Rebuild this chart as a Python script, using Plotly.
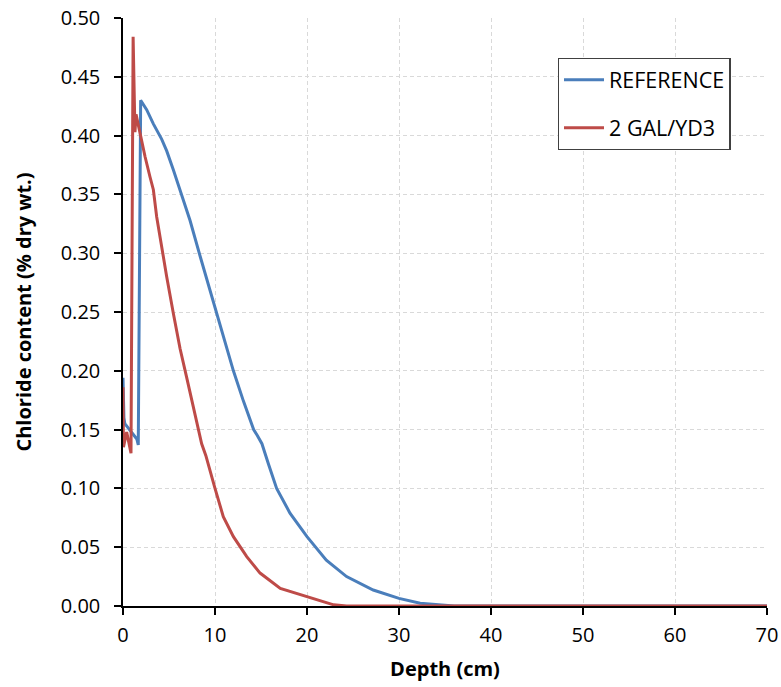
import plotly.graph_objects as go

# Reference series
ref_depth = [0, 0.1, 0.2, 0.5, 1.0, 1.5, 1.66, 1.92, 2.57, 3.3, 4.2, 4.75, 5.47, 6.2,
             7.28, 8.4, 9.46, 10.5, 11.3, 12.0, 13.1, 14.2, 14.6, 15.1, 15.8, 16.7,
             18.15, 20.0, 22.1, 24.3, 27.2, 30.0, 32.3, 34.5, 36.0, 40, 50, 60, 70]
ref_cl = [0.194, 0.160, 0.155, 0.152, 0.148, 0.142, 0.137, 0.430, 0.422, 0.410, 0.397,
          0.387, 0.371, 0.354, 0.328, 0.297, 0.269, 0.240, 0.219, 0.200, 0.174, 0.150,
          0.145, 0.138, 0.121, 0.100, 0.079, 0.059, 0.039, 0.025, 0.0136, 0.0065,
          0.0023, 0.0006, 0.0, 0.0, 0.0, 0.0, 0.0]

# 2 GAL/YD3 series
gal_depth = [0, 0.05, 0.4, 0.87, 1.1, 1.3, 1.42, 1.85, 2.4, 2.93, 3.3, 3.66, 4.2, 4.75,
             5.47, 6.2, 6.9, 7.65, 8.55, 9.0, 9.46, 10.0, 10.9, 12.0, 13.45, 14.9, 17.1,
             20.0, 21.8, 22.9, 24.3, 30, 40, 50, 60, 70]
gal_cl = [0.186, 0.135, 0.148, 0.130, 0.484, 0.403, 0.418, 0.402, 0.382, 0.365, 0.354,
          0.331, 0.305, 0.280, 0.249, 0.219, 0.195, 0.169, 0.138, 0.128, 0.116, 0.100,
          0.076, 0.059, 0.042, 0.028, 0.015, 0.008, 0.0037, 0.001, 0.0, 0.0, 0.0, 0.0,
          0.0, 0.0]

x_ticks = [0, 10, 20, 30, 40, 50, 60, 70]
y_ticks = [0.00, 0.05, 0.10, 0.15, 0.20, 0.25, 0.30, 0.35, 0.40, 0.45, 0.50]

FONT = "'Open Sans', 'Liberation Sans', sans-serif"

fig = go.Figure()
fig.add_trace(go.Scatter(x=ref_depth, y=ref_cl, mode="lines", name="REFERENCE",
                         legendgroup="a",
                         line=dict(color="#4A7EBB", width=3)))
fig.add_trace(go.Scatter(x=gal_depth, y=gal_cl, mode="lines", name="2 GAL/YD3",
                         legendgroup="b",
                         line=dict(color="#BE4B48", width=3)))

axis_common = dict(showline=True, linecolor="black", linewidth=1.5, ticks="outside",
                   ticklen=7, tickcolor="black", tickwidth=1.5, showgrid=True,
                   gridcolor="#D9D9D9", gridwidth=1, griddash="4px,3px",
                   zeroline=False, automargin=False, ticklabeloverflow="allow",
                   tickfont=dict(family=FONT, size=20, color="black"))

fig.update_layout(
    width=781, height=687,
    margin=dict(l=123, r=14, t=18, b=81),
    paper_bgcolor="white", plot_bgcolor="white",
    font=dict(family=FONT, size=20, color="black"),
    legend=dict(x=0.675, y=0.932, xanchor="left", yanchor="top",
                bordercolor="#404040", borderwidth=1.3, bgcolor="white",
                tracegroupgap=17, traceorder="grouped", itemwidth=40,
                font=dict(family=FONT, size=21.5, color="black")),
    xaxis=dict(range=[0, 70], tickvals=x_ticks, ticklabelstandoff=3,
               title=dict(text="<b>Depth (cm)</b>", font=dict(size=20)),
               **axis_common),
    yaxis=dict(range=[0, 0.5], tickvals=y_ticks, tickformat=".2f", ticklabelstandoff=10,
               title=dict(text="<b>Chloride content (% dry wt.)</b>", font=dict(size=20),
                          standoff=24),
               **axis_common),
)

# remove the browser's default page margin so the figure fills the window exactly
fig.write_html("out.html",
               config={"displayModeBar": False},
               post_script="document.body.style.margin='0';document.body.style.overflow='hidden';")
